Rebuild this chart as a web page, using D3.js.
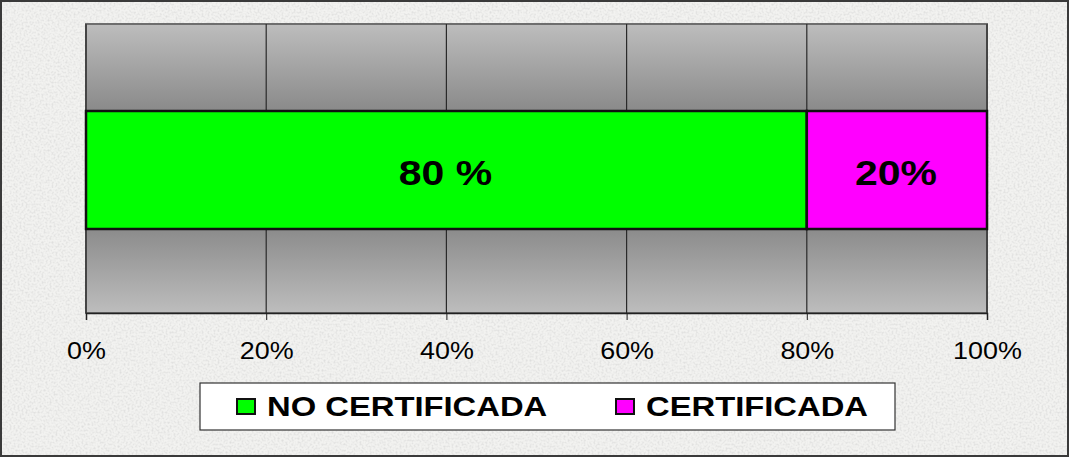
<!DOCTYPE html>
<html>
<head>
<meta charset="utf-8">
<script src="https://cdn.jsdelivr.net/npm/d3@7"></script>
<style>
  html, body { margin: 0; padding: 0; background: #fff; }
  svg { display: block; }
</style>
</head>
<body>
<script>
const WIDTH = 1069;
const HEIGHT = 457;

// data
const categories = ['NO CERTIFICADA', 'CERTIFICADA'];
const values = [80, 20];
const valueLabels = ['80 %', '20%'];
const colors = ['#00ff00', '#ff00ff'];
const tickValues = [0, 20, 40, 60, 80, 100];

const plot = { left: 86, right: 987, top: 24, bottom: 313 };
const bar = { top: 111, bottom: 229 };
const STRETCH = 1.17; // the original text is a bit wide

const svg = d3.select('body')
  .append('svg')
  .attr('width', WIDTH)
  .attr('height', HEIGHT);

const defs = svg.append('defs');

// speckled paper texture for the chart background
const noise = defs.append('filter')
  .attr('id', 'paper')
  .attr('x', 0).attr('y', 0).attr('width', '100%').attr('height', '100%');
noise.append('feTurbulence')
  .attr('type', 'fractalNoise')
  .attr('baseFrequency', 0.5)
  .attr('numOctaves', 2)
  .attr('seed', 3)
  .attr('result', 'n');
noise.append('feColorMatrix')
  .attr('in', 'n')
  .attr('type', 'matrix')
  .attr('values', '0 0 0 0 0.6  0 0 0 0 0.6  0 0 0 0 0.6  0 0 0 -2 1.15')
  .attr('result', 'dots');
noise.append('feComposite')
  .attr('in', 'dots')
  .attr('in2', 'SourceGraphic')
  .attr('operator', 'in');

const grad = defs.append('linearGradient')
  .attr('id', 'plotGrad')
  .attr('x1', 0).attr('y1', 0).attr('x2', 0).attr('y2', 1);
grad.append('stop').attr('offset', '0%').attr('stop-color', '#bdbdbd');
grad.append('stop').attr('offset', '30%').attr('stop-color', '#8a8a8a');
grad.append('stop').attr('offset', '70%').attr('stop-color', '#8a8a8a');
grad.append('stop').attr('offset', '100%').attr('stop-color', '#bdbdbd');

// background
svg.append('rect')
  .attr('width', WIDTH).attr('height', HEIGHT)
  .attr('fill', '#f2f2f0');
svg.append('rect')
  .attr('width', WIDTH).attr('height', HEIGHT)
  .attr('fill', '#f2f2f0')
  .attr('filter', 'url(#paper)')
  .attr('opacity', 0.6);
svg.append('rect')
  .attr('x', 1).attr('y', 1)
  .attr('width', WIDTH - 2).attr('height', HEIGHT - 2)
  .attr('fill', 'none')
  .attr('stroke', '#3a3a3a')
  .attr('stroke-width', 2);

const x = d3.scaleLinear()
  .domain([0, 100])
  .range([plot.left, plot.right]);

// plot area
svg.append('rect')
  .attr('x', plot.left).attr('y', plot.top)
  .attr('width', plot.right - plot.left)
  .attr('height', plot.bottom - plot.top)
  .attr('fill', 'url(#plotGrad)')
  .attr('stroke', '#6e6e6e')
  .attr('stroke-width', 2);

// grid lines
svg.selectAll('.grid')
  .data(tickValues)
  .join('line')
  .attr('class', 'grid')
  .attr('x1', (d) => x(d)).attr('x2', (d) => x(d))
  .attr('y1', plot.top).attr('y2', plot.bottom)
  .attr('stroke', '#2a2a2a')
  .attr('stroke-width', 1.2);

// axis
const axis = svg.append('g')
  .attr('transform', `translate(0, ${plot.bottom})`)
  .call(d3.axisBottom(x)
    .tickValues(tickValues)
    .tickSize(7)
    .tickPadding(23)
    .tickFormat((d) => d + '%'));
axis.select('.domain').attr('stroke', '#222').attr('stroke-width', 1.5);
axis.selectAll('.tick line').attr('stroke', '#222');
axis.selectAll('.tick text')
  .attr('font-family', 'Liberation Sans, Arial, sans-serif')
  .attr('font-size', 23)
  .attr('fill', '#000')
  .attr('transform', `scale(${STRETCH},1)`);

// stacked bar
const stack = values.map((v, i) => ({
  cat: categories[i],
  start: d3.sum(values.slice(0, i)),
  end: d3.sum(values.slice(0, i + 1)),
  label: valueLabels[i],
  color: colors[i],
}));

svg.selectAll('.seg')
  .data(stack)
  .join('rect')
  .attr('class', 'seg')
  .attr('x', (d) => x(d.start))
  .attr('y', bar.top)
  .attr('width', (d) => x(d.end) - x(d.start))
  .attr('height', bar.bottom - bar.top)
  .attr('fill', (d) => d.color)
  .attr('stroke', '#111')
  .attr('stroke-width', 2.5);

svg.selectAll('.seg-label')
  .data(stack)
  .join('text')
  .attr('class', 'seg-label')
  .attr('transform', (d) =>
    `translate(${(x(d.start) + x(d.end)) / 2 - 1}, ${bar.top + 74}) scale(${STRETCH},1)`)
  .attr('text-anchor', 'middle')
  .attr('font-family', 'Liberation Sans, Arial, sans-serif')
  .attr('font-weight', 'bold')
  .attr('font-size', 35)
  .attr('fill', '#000')
  .text((d) => d.label);

// legend
const legend = svg.append('g');
legend.append('rect')
  .attr('x', 200).attr('y', 383)
  .attr('width', 695).attr('height', 47)
  .attr('fill', '#fff')
  .attr('stroke', '#333')
  .attr('stroke-width', 1.2);

const legendX = [237, 616];
const item = legend.selectAll('.legend-item')
  .data(stack)
  .join('g')
  .attr('class', 'legend-item')
  .attr('transform', (d, i) => `translate(${legendX[i]}, 399)`);
item.append('rect')
  .attr('x', 0).attr('y', 0)
  .attr('width', 18).attr('height', 15)
  .attr('fill', (d) => d.color)
  .attr('stroke', '#111')
  .attr('stroke-width', 2);
item.append('text')
  .attr('transform', `translate(30, 17) scale(${STRETCH},1)`)
  .attr('font-family', 'Liberation Sans, Arial, sans-serif')
  .attr('font-weight', 'bold')
  .attr('font-size', 28)
  .attr('fill', '#000')
  .text((d) => d.cat);
</script>
</body>
</html>
